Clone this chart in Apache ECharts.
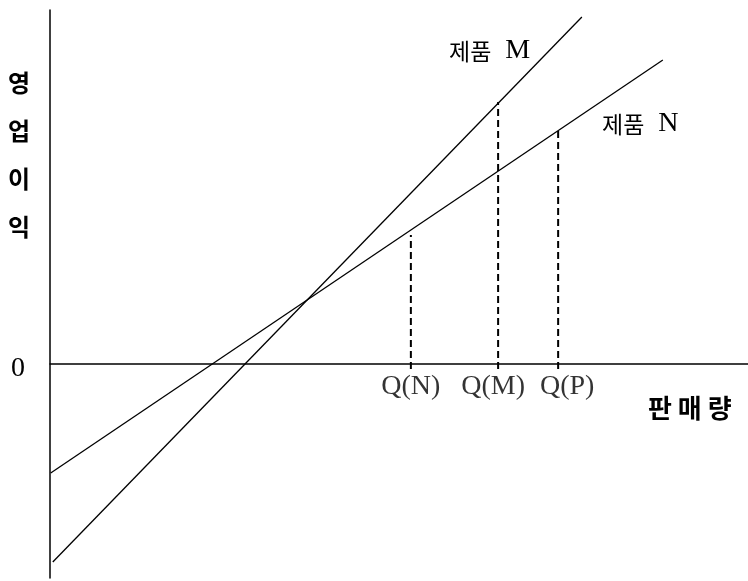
<!DOCTYPE html>
<html>
<head>
<meta charset="utf-8">
<script src="https://cdn.jsdelivr.net/npm/echarts@6/dist/echarts.min.js"></script>
<style>
  html, body { margin: 0; background: #fff; }
  #chart { width: 748px; height: 581px; }
</style>
</head>
<body>
<div id="chart"></div>
<script>
// straight profit lines, [quantity, operating profit]
const lineM = [[0.4, -99], [76.2, 173.5]];
const lineN = [[0.1, -54.5], [87.8, 152]];

// dashed drop lines at the marked quantities
const qNames = ["Q(N)", "Q(M)", "Q(P)"];
const qX = [51.7, 64.2, 72.8];
const qTop = [64.5, 131, 117];
const qBottom = -2.5;

const yTicks = [0];

const serif = '"Liberation Serif", "DejaVu Serif", serif';
const kr = '"Noto Sans CJK KR", sans-serif';

const chart = echarts.init(document.getElementById("chart"));

const dashSeries = qX.map((x, i) => ({
  type: "line",
  data: [[x, qBottom], [x, qTop[i]]],
  showSymbol: false,
  silent: true,
  lineStyle: { color: "#000", width: 2, type: [7, 4] },
}));

// small nudges so the labels sit like in the original drawing
const qLabelOffset = [[0, 0], [-5, 0], [9, 0]];

chart.setOption({
  animation: false,
  grid: { left: 50, right: 0, top: 10, bottom: 3, outerBoundsMode: "none" },
  xAxis: {
    type: "value",
    min: 0,
    max: 100,
    splitLine: { show: false },
    axisTick: { show: false },
    axisLabel: { show: false },
    axisLine: { onZero: true, lineStyle: { color: "#000", width: 1.5 } },
  },
  yAxis: {
    type: "value",
    min: -107,
    max: 177,
    splitLine: { show: false },
    axisTick: { show: false },
    axisLine: { onZero: true, lineStyle: { color: "#000", width: 1.5 } },
    axisLabel: {
      customValues: yTicks,
      margin: 25,
      formatter: (v) => `{z|${v}}`,
      rich: {
        z: { fontFamily: serif, fontSize: 28, color: "#000", padding: [9, 0, 0, 0] },
      },
    },
  },
  graphic: [
    {
      type: "text",
      left: 8,
      top: 59,
      style: {
        text: "영\n업\n이\n익",
        font: "bold 24px " + kr,
        lineHeight: 48,
        fill: "#000",
      },
    },
    {
      type: "text",
      left: 648,
      top: 395,
      style: { text: "판 매 량", font: "bold 26px " + kr, fill: "#000" },
    },
    {
      type: "text",
      left: 449,
      top: 37,
      style: {
        text: "{k|제품}{l|  M}",
        rich: {
          k: { fontFamily: kr, fontSize: 23, fill: "#000" },
          l: { fontFamily: serif, fontSize: 28, fill: "#000" },
        },
      },
    },
    {
      type: "text",
      left: 602,
      top: 110,
      style: {
        text: "{k|제품}{l|  N}",
        rich: {
          k: { fontFamily: kr, fontSize: 23, fill: "#000" },
          l: { fontFamily: serif, fontSize: 28, fill: "#000" },
        },
      },
    },
  ],
  series: [
    {
      name: "제품 M",
      type: "line",
      data: lineM,
      showSymbol: false,
      silent: true,
      lineStyle: { color: "#000", width: 1.3 },
    },
    {
      name: "제품 N",
      type: "line",
      data: lineN,
      showSymbol: false,
      silent: true,
      lineStyle: { color: "#000", width: 1.3 },
    },
    ...dashSeries,
    {
      type: "scatter",
      symbolSize: 0,
      silent: true,
      data: qX.map((x, i) => ({
        value: [x, 0],
        label: {
          show: true,
          position: "bottom",
          distance: 9,
          offset: qLabelOffset[i],
          formatter: qNames[i],
          fontFamily: serif,
          fontSize: 28,
          color: "#000",
        },
      })),
    },
  ],
});
</script>
</body>
</html>
